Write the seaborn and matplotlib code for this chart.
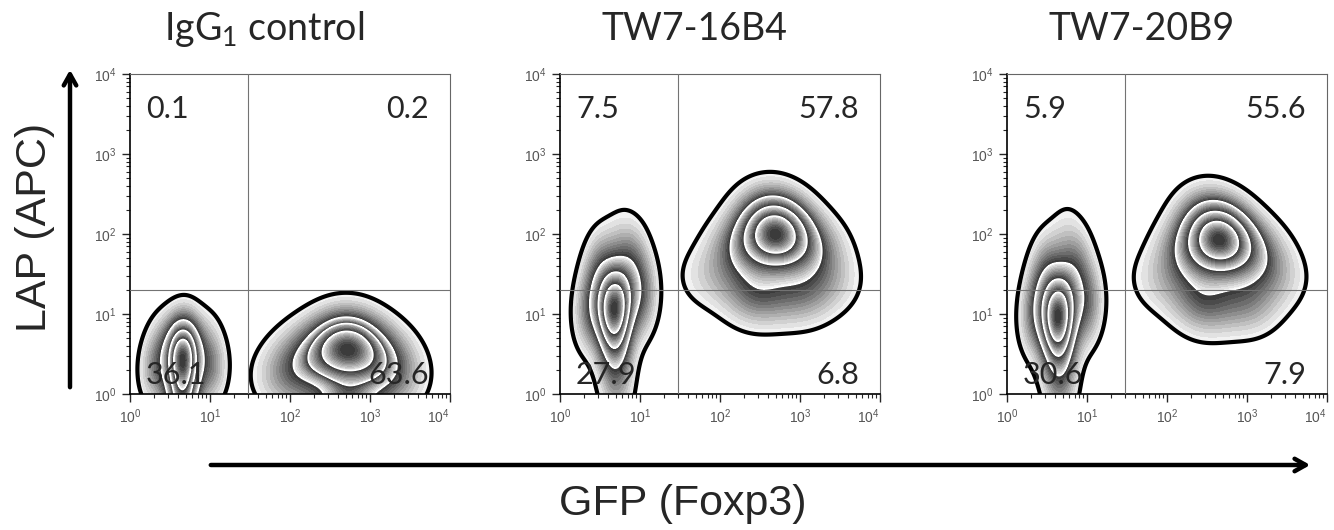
import numpy as np
import pandas as pd
import matplotlib.pyplot as plt
import seaborn as sns
from matplotlib.ticker import LogLocator, NullFormatter

sns.set_style("ticks")
plt.rcParams["font.family"] = ["Lato", "DejaVu Sans"]
plt.rcParams["mathtext.default"] = "regular"

titles = ["IgG$_1$ control", "TW7-16B4", "TW7-20B9"]
# quadrant frequencies: upper-left, upper-right, lower-left, lower-right
quad_pct = [
    ["0.1", "0.2", "36.1", "63.6"],
    ["7.5", "57.8", "27.9", "6.8"],
    ["5.9", "55.6", "30.6", "7.9"],
]
gate_gfp = 30
gate_lap = 20
decades = [1, 10, 100, 1000, 10000]

# anchor events of each population (log10 GFP, log10 LAP, weight)
igg_neg_x = [0.66, 0.66, 0.64, 0.32, 1.02, 0.40, 0.95]
igg_neg_y = [0.55, 0.10, -0.40, 0.30, 0.30, 0.65, 0.65]
igg_neg_w = [4, 2.5, 2, 1.0, 1.0, 0.5, 0.5]

igg_pos_x = [2.70, 2.70, 2.25, 3.10, 1.95, 3.30]
igg_pos_y = [0.60, -0.30, 0.45, 0.45, 0.20, 0.20]
igg_pos_w = [4, 3, 1.5, 1.5, 1, 1]

b4_neg_x = [0.68, 0.50, 0.90, 0.70, 0.72, 0.38, 1.02, 0.75]
b4_neg_y = [1.09, 1.55, 1.60, 0.55, 0.00, 1.05, 1.20, 1.90]
b4_neg_w = [4, 0.9, 0.9, 1.3, 0.5, 1.0, 1.0, 0.3]

b4_pos_x = [2.70, 2.25, 3.15, 2.60, 2.45, 3.00, 1.85, 3.40]
b4_pos_y = [2.00, 1.80, 1.80, 2.30, 1.25, 1.25, 1.45, 1.40]
b4_pos_w = [5, 1.2, 1.2, 0.8, 1.3, 1.0, 0.5, 0.5]

b9_neg_x = [0.64, 0.48, 0.86, 0.66, 0.68, 0.36, 1.00, 0.72]
b9_neg_y = [1.00, 1.50, 1.55, 0.50, -0.05, 1.00, 1.10, 1.95]
b9_neg_w = [4, 0.9, 0.9, 1.3, 0.5, 1.0, 1.0, 0.3]

b9_pos_x = [2.66, 2.25, 3.10, 2.50, 2.45, 3.00, 1.90, 3.40]
b9_pos_y = [1.93, 1.75, 1.75, 2.25, 1.15, 1.15, 1.40, 1.45]
b9_pos_w = [5, 1.2, 1.2, 0.8, 1.3, 1.0, 0.5, 0.5]

panels = [
    [(igg_neg_x, igg_neg_y, igg_neg_w), (igg_pos_x, igg_pos_y, igg_pos_w)],
    [(b4_neg_x, b4_neg_y, b4_neg_w), (b4_pos_x, b4_pos_y, b4_pos_w)],
    [(b9_neg_x, b9_neg_y, b9_neg_w), (b9_pos_x, b9_pos_y, b9_pos_w)],
]

# zebra contour levels (iso-proportions)
outer_level = 0.05
zebra_levels = [0.05, 0.42, 0.66, 0.84, 1.0]
n_sub = 12

fill_levels = []
fill_colors = []
for lo, hi in zip(zebra_levels[:-1], zebra_levels[1:]):
    for k in range(n_sub):
        fill_levels.append(lo + (hi - lo) * k / n_sub)
        g = 0.95 - 0.72 * k / (n_sub - 1)
        fill_colors.append((g, g, g))
fill_levels.append(1.0)

fig = plt.figure(figsize=(13.34, 5.30), dpi=100)
lefts = [130, 560, 1007]

for i, left in enumerate(lefts):
    ax = fig.add_axes([left / 1334, (530 - 394) / 530, 320 / 1334, 320 / 530])
    for px, py, pw in panels[i]:
        df = pd.DataFrame({"gfp": 10 ** np.array(px, dtype=float),
                           "lap": 10 ** np.array(py, dtype=float),
                           "w": pw})
        kw = dict(data=df, x="gfp", y="lap", weights="w", log_scale=True,
                  bw_method=0.75, color="black", ax=ax)
        sns.kdeplot(fill=True, levels=fill_levels, colors=fill_colors, **kw)
        sns.kdeplot(levels=zebra_levels[1:-1], colors="white", linewidths=1.2, **kw)
        sns.kdeplot(levels=[outer_level], colors="black", linewidths=3, **kw)

    ax.axvline(gate_gfp, color="0.45", lw=0.8, zorder=5)
    ax.axhline(gate_lap, color="0.45", lw=0.8, zorder=5)
    ax.set_xlim(1, 1e4)
    ax.set_ylim(1, 1e4)
    ax.set_xlabel("")
    ax.set_ylabel("")
    ax.set_xticks(decades)
    ax.set_yticks(decades)

    for axis in [ax.xaxis, ax.yaxis]:
        axis.set_minor_locator(LogLocator(base=10, subs=np.arange(2, 10), numticks=10))
        axis.set_minor_formatter(NullFormatter())
    ax.tick_params(which="major", length=6, width=1, labelsize=10, labelcolor="#555555",
                   labelfontfamily="Liberation Sans")
    ax.tick_params(which="minor", length=3, width=0.8)
    ax.xaxis.get_major_ticks()[-1].label1.set_horizontalalignment("right")
    for s in ["left", "bottom"]:
        ax.spines[s].set_color("black")
        ax.spines[s].set_linewidth(1.2)
    for s in ["top", "right"]:
        ax.spines[s].set_color("0.4")
        ax.spines[s].set_linewidth(0.8)

    ul, ur, ll, lr = quad_pct[i]
    tkw = dict(transform=ax.transAxes, fontsize=22, va="center", zorder=10)
    ax.text(0.05, 0.89, ul, ha="left", **tkw)
    ax.text(0.935, 0.89, ur, ha="right", **tkw)
    ax.text(0.05, 0.06, ll, ha="left", **tkw)
    ax.text(0.935, 0.06, lr, ha="right", **tkw)

    ax.text(0.42, 1.14, titles[i], transform=ax.transAxes, fontsize=27,
            ha="center", va="center")

fig.text(0.026, 0.57, "LAP (APC)", rotation=90, fontsize=31,
         family=["Liberation Sans", "DejaVu Sans"], ha="center", va="center")
fig.text(0.512, 0.05, "GFP (Foxp3)", fontsize=31,
         family=["Liberation Sans", "DejaVu Sans"], ha="center", va="center")

arrow = dict(arrowstyle="->,head_length=0.8,head_width=0.45", lw=3.2, color="black")
fig.add_artist(plt.Annotation("", xy=(70 / 1334, (530 - 67) / 530),
                              xytext=(70 / 1334, (530 - 390) / 530),
                              xycoords="figure fraction", arrowprops=arrow))
fig.add_artist(plt.Annotation("", xy=(1313 / 1334, (530 - 465) / 530),
                              xytext=(208 / 1334, (530 - 465) / 530),
                              xycoords="figure fraction", arrowprops=arrow))

fig.savefig("out.png", dpi=100)
